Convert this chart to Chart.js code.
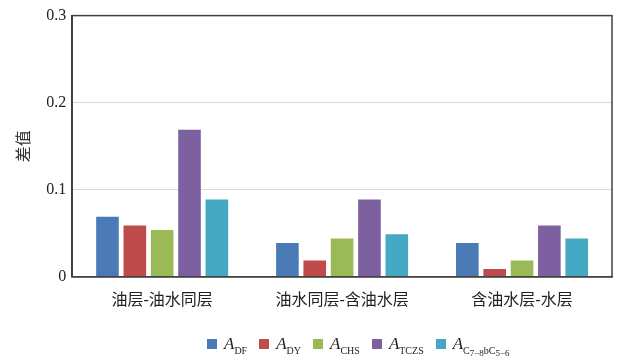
<!DOCTYPE html>
<html>
<head>
<meta charset="utf-8">
<script src="https://cdn.jsdelivr.net/npm/chart.js@4"></script>
<style>
  body { margin: 0; background: #fff; }
  #wrap { position: relative; width: 630px; height: 360px; }
  #legend { position: absolute; left: 207px; top: 334px; display: flex; align-items: center;
            font-family: "Liberation Serif", "DejaVu Serif", serif; font-size: 17px; color: #222; }
  #legend span.box { display: inline-block; width: 10px; height: 10px; margin-right: 7px; }
  #legend span.item { display: flex; align-items: center; margin-right: 12px; }
  #legend sub { font-size: 10px; position: relative; top: 6px; }
  #legend sub sub { font-size: 9px; top: 2px; vertical-align: baseline; }
</style>
</head>
<body>
<div id="wrap">
  <canvas id="chaZhi" width="630" height="360"></canvas>
  <div id="legend"></div>
</div>
<script>
// Data
const categories = ['油层-油水同层', '油水同层-含油水层', '含油水层-水层'];
const seriesNames = ['DF', 'DY', 'CHS', 'TCZS', 'C<sub>7−8</sub>bC<sub>5−6</sub>'];
const aDF   = [0.07, 0.04, 0.04];
const aDY   = [0.06, 0.02, 0.01];
const aCHS  = [0.055, 0.045, 0.02];
const aTCZS = [0.17, 0.09, 0.06];
const aC    = [0.09, 0.05, 0.045];
const yTicks = [0, 0.1, 0.2, 0.3];

const colors = ['#4a7bb7', '#bf4c4a', '#9aba58', '#7d60a0', '#45a9c4'];
const values = [aDF, aDY, aCHS, aTCZS, aC];

const datasets = seriesNames.map((name, i) => ({
    label: 'A' + name.replace(/<\/?sub>/g, ''),
    data: values[i],
    backgroundColor: colors[i],
    borderColor: 'rgba(255,255,255,0.4)',
    borderWidth: 1,
    barPercentage: 0.9,
    categoryPercentage: 0.76
}));

// kotak border area chart
const boxPlugin = {
    id: 'boxBorder',
    afterDatasetsDraw(chart) {
        const a = chart.chartArea, c = chart.ctx;
        c.save();
        c.strokeStyle = '#404040';
        c.lineWidth = 1.5;
        c.strokeRect(a.left, a.top, a.right - a.left, a.bottom - a.top);
        c.restore();
    }
};

const ctx = document.getElementById('chaZhi').getContext('2d');
new Chart(ctx, {
    type: 'bar',
    data: { labels: categories, datasets: datasets },
    options: {
        responsive: false,
        animation: false,
        layout: { padding: { left: 1, right: 18, top: 8, bottom: 44 } },
        plugins: { legend: { display: false }, tooltip: { enabled: false } },
        scales: {
            x: {
                grid: { display: false },
                border: { color: '#404040', width: 1.5 },
                ticks: { color: '#222', font: { family: 'Liberation Serif, Noto Sans CJK SC', size: 16 }, padding: 6 }
            },
            y: {
                min: 0, max: 0.3,
                afterBuildTicks: (axis) => { axis.ticks = yTicks.map(v => ({ value: v })); },
                grid: { color: '#d9d9d9', drawTicks: false },
                border: { color: '#404040', width: 1.5 },
                ticks: {
                    color: '#222', padding: 6,
                    font: { family: 'Liberation Serif', size: 16 },
                    callback: v => v === 0 ? '0' : v.toFixed(1)
                },
                title: { display: true, text: '差值', color: '#333', font: { family: 'Noto Sans CJK SC', size: 16 }, padding: { top: 12, bottom: 8 } }
            }
        }
    },
    plugins: [boxPlugin]
});

// legend HTML (subscript)
const legend = document.getElementById('legend');
seriesNames.forEach((name, i) => {
    const item = document.createElement('span');
    item.className = 'item';
    item.innerHTML = '<span class="box" style="background:' + colors[i] + '"></span><i>A</i><sub>' + name + '</sub>';
    legend.appendChild(item);
});
</script>
</body>
</html>
